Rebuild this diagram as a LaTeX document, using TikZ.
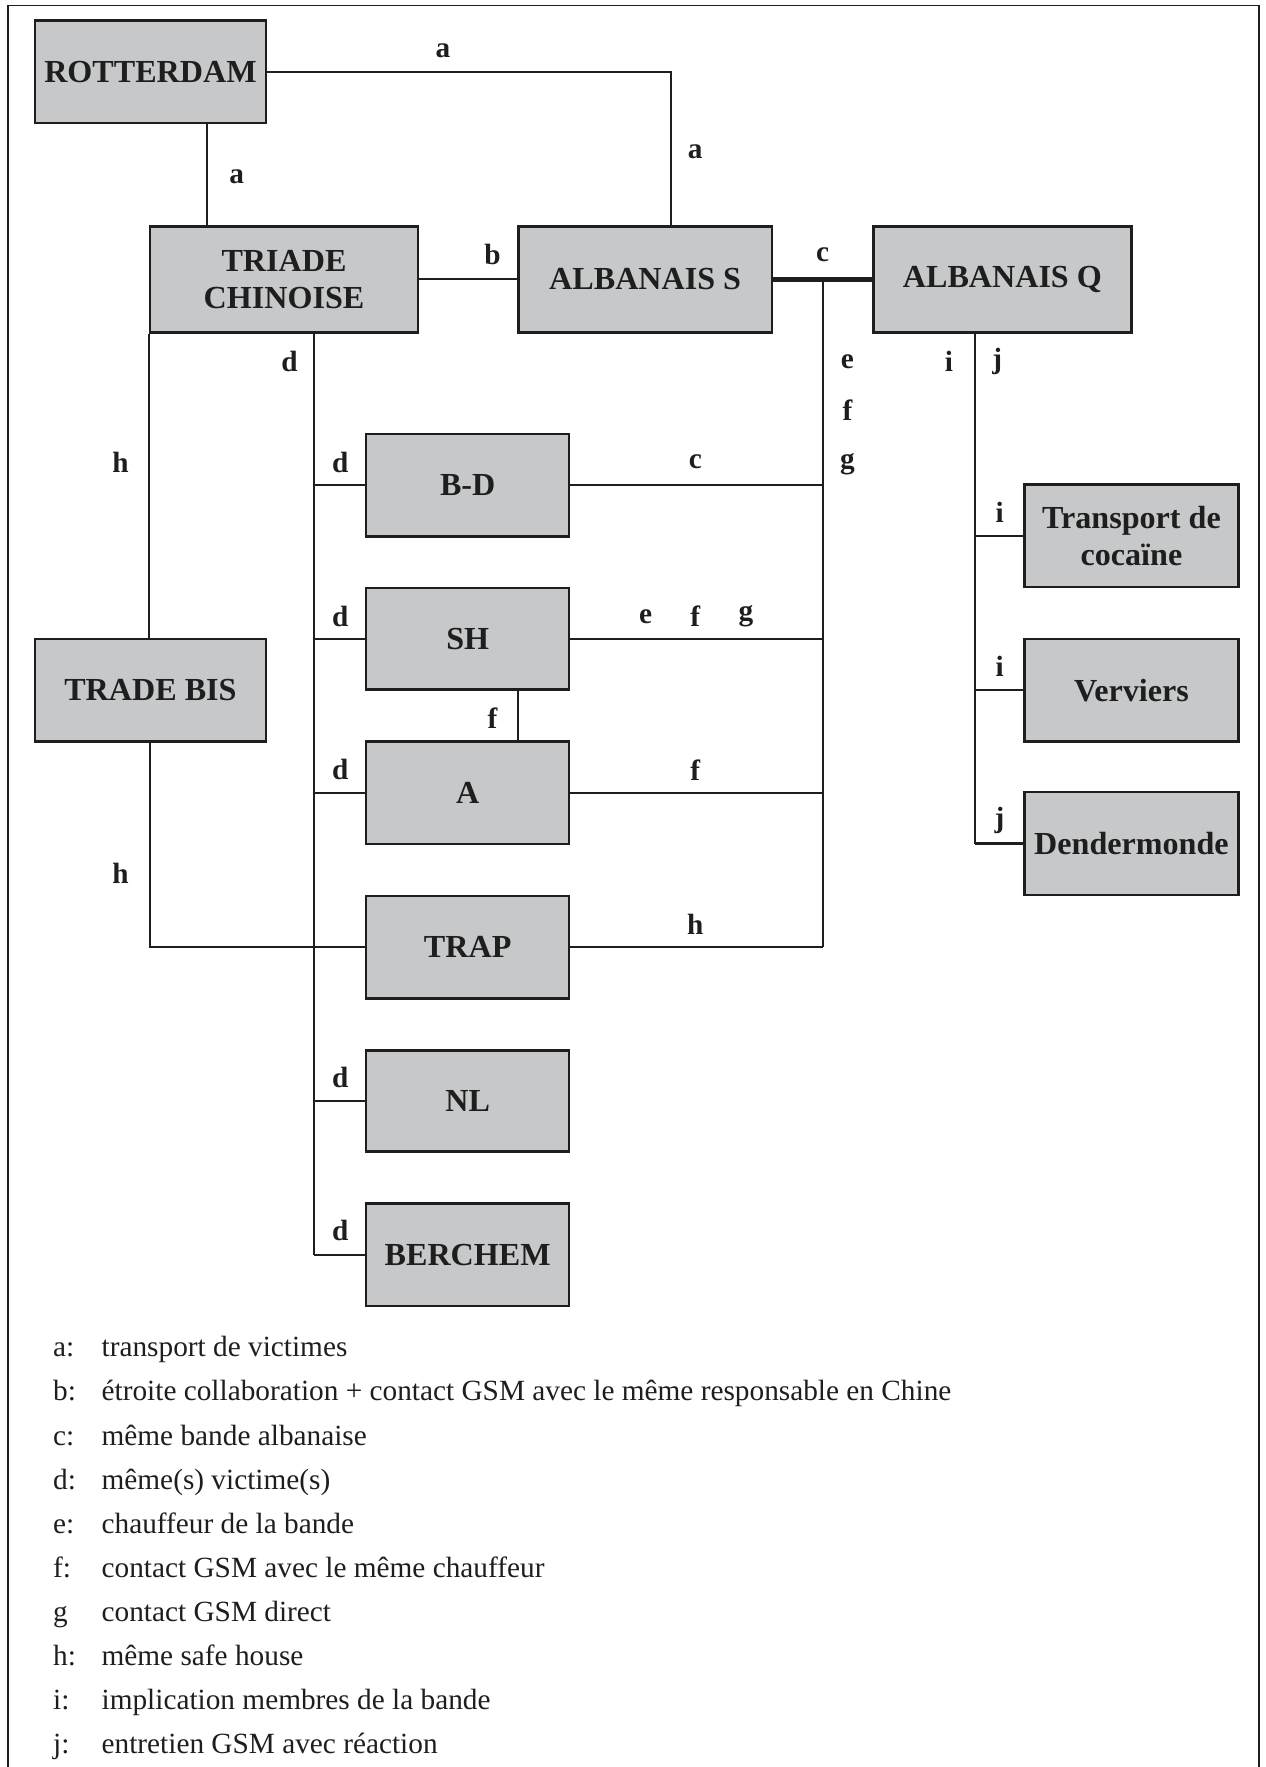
\documentclass[tikz,border=0pt]{standalone}
\usepackage{fontspec}
\setmainfont{Liberation Serif}
\usetikzlibrary{calc}
\definecolor{boxgray}{RGB}{199,200,202}
\definecolor{ink}{RGB}{30,30,30}
\begin{document}
\begin{tikzpicture}[x=1pt,y=-1pt,
  box/.style={draw=ink,line width=2.2pt,fill=boxgray,inner sep=0pt,align=center,
    font=\fontsize{28.5}{33}\selectfont\bfseries,text=ink},
  conn/.style={draw=ink,line width=1.8pt},
  thick conn/.style={draw=ink,line width=4pt},
  lab/.style={inner sep=0pt,font=\fontsize{26}{30}\selectfont\bfseries,text=ink},
  leg/.style={inner sep=0pt,anchor=base west,font=\fontsize{26}{30}\selectfont,text=ink}]
\useasboundingbox (0,0) rectangle (1123,1568);
\draw[ink,line width=1.5pt] (7,1570) -- (7,5) -- (1117,5) -- (1117,1570);

% boxes
\node[box,minimum width=205pt,minimum height=91pt] (rot) at (133.5,63.5) {ROTTERDAM};
\node[box,minimum width=238pt,minimum height=94pt] (tri) at (252,248) {TRIADE\\CHINOISE};
\node[box,minimum width=225pt,minimum height=94pt] (albS) at (572.5,248) {ALBANAIS S};
\node[box,minimum width=229pt,minimum height=94pt] (albQ) at (889.5,248) {ALBANAIS Q};
\node[box,minimum width=180pt,minimum height=91pt] (bd) at (415,430.5) {B-D};
\node[box,minimum width=180pt,minimum height=90pt] (sh) at (415,567) {SH};
\node[box,minimum width=180pt,minimum height=91pt] (a) at (415,703.5) {A};
\node[box,minimum width=180pt,minimum height=91pt] (trap) at (415,840.5) {TRAP};
\node[box,minimum width=180pt,minimum height=90pt] (nl) at (415,977) {NL};
\node[box,minimum width=180pt,minimum height=91pt] (ber) at (415,1113.5) {BERCHEM};
\node[box,minimum width=205pt,minimum height=91pt] (tbis) at (133.5,612.5) {TRADE BIS};
\node[box,minimum width=190pt,minimum height=91pt] (tc) at (1004,475.5) {Transport de\\cocaïne};
\node[box,minimum width=190pt,minimum height=91pt] (ver) at (1004,612.5) {Verviers};
\node[box,minimum width=190pt,minimum height=91pt] (den) at (1004,748.5) {Dendermonde};

% named points
\coordinate (bus) at ($(albS.east)!0.5!(albQ.west)$);
\coordinate (trunk) at ([xshift=27pt]tri.south);
\coordinate (qtrunk) at ([xshift=-24.5pt]albQ.south);

% connectors
\draw[conn] (rot.east) -| ([xshift=22.5pt]albS.north);
\draw[conn] ([xshift=50.5pt]rot.south) -- ([xshift=50.5pt]rot.south |- tri.north);
\draw[conn] (tri.east) -- (albS.west);
\draw[thick conn] (albS.east) -- (albQ.west);
\draw[conn] (bus) -- (bus |- trap.east);
\draw[conn] (bd.east) -- (bd.east -| bus);
\draw[conn] (sh.east) -- (sh.east -| bus);
\draw[conn] (a.east) -- (a.east -| bus);
\draw[conn] (trap.east) -- (trap.east -| bus);
\draw[conn] ([xshift=45pt]sh.south) -- ([xshift=45pt]sh.south |- a.north);
\draw[conn] (trunk) -- (trunk |- ber.west);
\draw[conn] (bd.west -| trunk) -- (bd.west);
\draw[conn] (sh.west -| trunk) -- (sh.west);
\draw[conn] (a.west -| trunk) -- (a.west);
\draw[conn] (nl.west -| trunk) -- (nl.west);
\draw[conn] (ber.west -| trunk) -- (ber.west);
\draw[conn] (tri.south west) -- (tri.south west |- tbis.north);
\draw[conn] (tbis.south) |- (trap.west);
\draw[conn] (qtrunk) -- (qtrunk |- den.west);
\draw[conn] (tc.west -| qtrunk) -- (tc.west);
\draw[conn] (ver.west -| qtrunk) -- (ver.west);
\draw[conn] (den.west -| qtrunk) -- (den.west);

% connector labels
\node[lab] (la1) at (393,45) {a};
\node[lab] (la2) at (617,135) {a};
\node[lab] (la3) at (210,157) {a};
\node[lab] (lb1) at (437,226) {b};
\node[lab] (lc1) at (730,226) {c};
\node[lab] (le1) at (752,321) {e};
\node[lab] (lf1) at (752,364) {f};
\node[lab] (lg1) at (752,412) {g};
\node[lab] (li1) at (842,321) {i};
\node[lab] (lj1) at (885,321) {j};
\node[lab] (ld1) at (257,321) {d};
\node[lab] (lh1) at (107,410) {h};
\node[lab] (ld2) at (302,410) {d};
\node[lab] (lc2) at (617,410) {c};
\node[lab] (ld3) at (302,547) {d};
\node[lab] (le2) at (573,547) {e};
\node[lab] (lf2) at (617,547) {f};
\node[lab] (lg2) at (662,547) {g};
\node[lab] (lf3) at (437,637) {f};
\node[lab] (ld4) at (302,683) {d};
\node[lab] (lf4) at (617,683) {f};
\node[lab] (lh2) at (107,775) {h};
\node[lab] (lh3) at (617,820) {h};
\node[lab] (ld5) at (302,956) {d};
\node[lab] (ld6) at (302,1092) {d};
\node[lab] (li2) at (887,455) {i};
\node[lab] (li3) at (887,591) {i};
\node[lab] (lj2) at (887,728) {j};

% legend
\foreach \k/\t [count=\n from 0] in {a:/transport de victimes,
  b:/étroite collaboration + contact GSM avec le même responsable en Chine,
  c:/même bande albanaise,
  d:/même(s) victime(s),
  e:/chauffeur de la bande,
  f:/contact GSM avec le même chauffeur,
  g/contact GSM direct,
  h:/même safe house,
  i:/implication membres de la bande,
  j:/entretien GSM avec réaction}{
  \node[leg] (lk\n) at (47,1204+39.15*\n) {\k};
  \node[leg] (lt\n) at (90,1204+39.15*\n) {\t};
}
\end{tikzpicture}
\end{document}
